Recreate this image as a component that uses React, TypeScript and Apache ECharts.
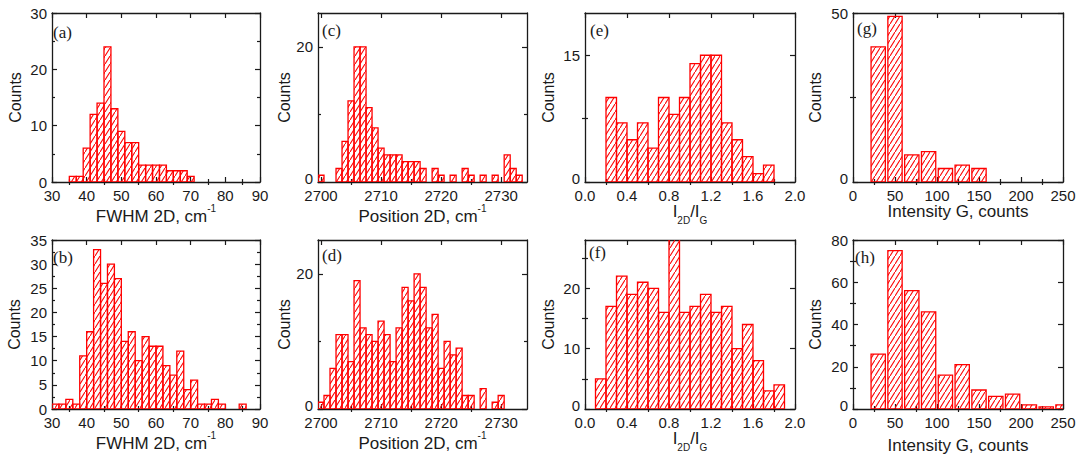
import React, { useEffect, useRef } from "react";
import * as echarts from "echarts";

// ---------------- data (bin centres and counts) ----------------
const fwhmBinsA = [36, 38, 40, 42, 44, 46, 48, 50, 52, 54, 56, 58, 60, 62, 64, 66, 68, 70];
const fwhmCountsA = [1, 1, 6, 12, 14, 24, 13, 9, 7, 7, 3, 3, 3, 3, 2, 2, 2, 1];

const fwhmBinsB = [31, 33, 35, 37, 39, 41, 43, 45, 47, 49, 51, 53, 55, 57, 59, 61, 63, 65, 67, 69, 71, 73, 75, 77, 79, 85];
const fwhmCountsB = [1, 1, 2, 1, 11, 16, 33, 26, 30, 27, 14, 16, 10, 15, 13, 13, 9, 7, 12, 4, 6, 1, 1, 2, 1, 1];

const posBinsC = [2700, 2703, 2704, 2705, 2706, 2707, 2708, 2709, 2710, 2711, 2712, 2713, 2714, 2715, 2716, 2717, 2719, 2720, 2722, 2724, 2725, 2727, 2729, 2731, 2732, 2733];
const posCountsC = [1, 2, 6, 12, 20, 20, 11, 8, 5, 4, 4, 4, 3, 3, 3, 2, 2, 1, 1, 2, 1, 1, 1, 4, 2, 1];

const posBinsD = [2700, 2701, 2702, 2703, 2704, 2705, 2706, 2707, 2708, 2709, 2710, 2711, 2712, 2713, 2714, 2715, 2716, 2717, 2718, 2719, 2720, 2721, 2722, 2723, 2724, 2725, 2727, 2729, 2730];
const posCountsD = [1, 2, 6, 11, 11, 7, 19, 12, 11, 10, 13, 11, 7, 12, 18, 16, 20, 18, 12, 14, 6, 10, 8, 9, 2, 2, 3, 1, 2];

const ratioBinsE = [0.25, 0.35, 0.45, 0.55, 0.65, 0.75, 0.85, 0.95, 1.05, 1.15, 1.25, 1.35, 1.45, 1.55, 1.65, 1.75];
const ratioCountsE = [10, 7, 5, 7, 4, 10, 8, 10, 14, 15, 15, 7, 5, 3, 1, 2];

const ratioBinsF = [0.15, 0.25, 0.35, 0.45, 0.55, 0.65, 0.75, 0.85, 0.95, 1.05, 1.15, 1.25, 1.35, 1.45, 1.55, 1.65, 1.75, 1.85];
const ratioCountsF = [5, 17, 22, 19, 21, 20, 16, 30, 16, 17, 19, 16, 17, 10, 14, 8, 3, 4];

const intBinsG = [30, 50, 70, 90, 110, 130, 150];
const intCountsG = [40, 49, 8, 9, 4, 5, 4];

const intBinsH = [30, 50, 70, 90, 110, 130, 150, 170, 190, 210, 230, 250];
const intCountsH = [26, 75, 56, 46, 16, 21, 9, 6, 7, 2, 1, 2];

// ---------------- tick values ----------------
const fwhmTicks = [30, 40, 50, 60, 70, 80, 90];
const fwhmMinor = [35, 45, 55, 65, 75, 85];
const posTicks = [2700, 2710, 2720, 2730];
const posMinor = [2705, 2715, 2725];
const ratioTicks = [0, 0.4, 0.8, 1.2, 1.6, 2.0];
const ratioMinor = [0.2, 0.6, 1.0, 1.4, 1.8];
const intTicks = [0, 50, 100, 150, 200, 250];
const intMinor = [25, 75, 125, 175, 225];

const countTicksA = [0, 10, 20, 30];
const countMinorA = [5, 15, 25];
const countTicksB = [0, 5, 10, 15, 20, 25, 30, 35];
const countMinorB = [2.5, 7.5, 12.5, 17.5, 22.5, 27.5, 32.5];
const countTicksCD = [0, 20];
const countMinorCD = [10];
const countTicksE = [0, 15];
const countMinorE = [7.5];
const countTicksF = [0, 10, 20];
const countMinorF = [5, 15, 25];
const countTicksG = [0, 50];
const countMinorG = [25];
const countTicksH = [0, 20, 40, 60, 80];
const countMinorH = [10, 30, 50, 70];

// ---------------- styling ----------------
const RED = "#ff0000";
const INK = "#1a1a1a";
const SANS = '"Liberation Sans", Arial, sans-serif';
const SERIF = '"Liberation Serif", "Times New Roman", serif';

const hatchSvg =
  "data:image/svg+xml," +
  encodeURIComponent(
    "<svg xmlns='http://www.w3.org/2000/svg' width='5' height='8'><path d='M-1 9.6 L6 -1.6' stroke='#ff0000' stroke-width='1.1' fill='none'/></svg>"
  );

const fmtInt = (v: number) => String(Math.round(v));
const fmtOne = (v: number) => v.toFixed(1);
// zero label nudged up a little so it does not sit on the x tick label below it
const fmtCountLift = (v: number) => (v === 0 ? "{z|0}" : String(Math.round(v)));

const supRich = {
  a: { fontSize: 17, fontFamily: SANS, color: INK, lineHeight: 22, verticalAlign: "bottom" },
  s: { fontSize: 10, fontFamily: SANS, color: INK, verticalAlign: "top" },
};
const subRich = {
  a: { fontSize: 17, fontFamily: SANS, color: INK, lineHeight: 22, verticalAlign: "top" },
  b: { fontSize: 10, fontFamily: SANS, color: INK, verticalAlign: "bottom" },
};
const plainRich = {
  a: { fontSize: 17, fontFamily: SANS, color: INK, lineHeight: 20 },
};
const zeroRich = {
  z: { fontSize: 15, fontFamily: SANS, color: INK, padding: [0, 0, 7, 0] },
};

const fwhmName = "{a|FWHM 2D, cm}{s|-1}";
const posName = "{a|Position 2D, cm}{s|-1}";
const ratioName = "{a|I}{b|2D}{a|/I}{b|G}";
const intName = "{a|Intensity G, counts}";

type Ax = {
  min: number; max: number; majors: number[]; labels: number[]; minors: number[];
  fmt: (v: number) => string; name: string; gap: number; rich?: any;
};

const panels = [
  { tag: "(a)", grid: [52, 13, 208, 169], bins: fwhmBinsA, counts: fwhmCountsA, bw: 2, frac: 1, lx: 53, ly: 32,
    x: { min: 30, max: 90, majors: fwhmTicks, labels: fwhmTicks, minors: fwhmMinor, fmt: fmtInt, name: fwhmName, gap: 18, rich: supRich },
    y: { min: 0, max: 30, majors: countTicksA, labels: countTicksA, minors: countMinorA, fmt: fmtInt, name: "Counts", gap: 29 } },
  { tag: "(b)", grid: [52, 240, 208, 169], bins: fwhmBinsB, counts: fwhmCountsB, bw: 2, frac: 1, lx: 53, ly: 257,
    x: { min: 30, max: 90, majors: fwhmTicks, labels: fwhmTicks, minors: fwhmMinor, fmt: fmtInt, name: fwhmName, gap: 21, rich: supRich },
    y: { min: 0, max: 35, majors: countTicksB, labels: countTicksB, minors: countMinorB, fmt: fmtInt, name: "Counts", gap: 30 } },
  { tag: "(c)", grid: [318, 13, 209, 169], bins: posBinsC, counts: posCountsC, bw: 1, frac: 1, lx: 322, ly: 30,
    x: { min: 2699.5, max: 2734.3, majors: posTicks, labels: posTicks, minors: posMinor, fmt: fmtInt, name: posName, gap: 18, rich: supRich },
    y: { min: 0, max: 25, majors: countTicksCD, labels: countTicksCD, minors: countMinorCD, fmt: fmtCountLift, name: "Counts", gap: 25 } },
  { tag: "(d)", grid: [318, 240, 209, 169], bins: posBinsD, counts: posCountsD, bw: 1, frac: 1, lx: 322, ly: 255,
    x: { min: 2699.5, max: 2734.3, majors: posTicks, labels: posTicks, minors: posMinor, fmt: fmtInt, name: posName, gap: 19, rich: supRich },
    y: { min: 0, max: 25, majors: countTicksCD, labels: countTicksCD, minors: countMinorCD, fmt: fmtCountLift, name: "Counts", gap: 25 } },
  { tag: "(e)", grid: [585, 13, 210, 169], bins: ratioBinsE, counts: ratioCountsE, bw: 0.1, frac: 1, lx: 590, ly: 30,
    x: { min: 0, max: 2, majors: ratioTicks, labels: ratioTicks, minors: ratioMinor, fmt: fmtOne, name: ratioName, gap: 13, rich: subRich },
    y: { min: 0, max: 20, majors: countTicksE, labels: countTicksE, minors: countMinorE, fmt: fmtCountLift, name: "Counts", gap: 29 } },
  { tag: "(f)", grid: [585, 240, 210, 169], bins: ratioBinsF, counts: ratioCountsF, bw: 0.1, frac: 1, lx: 589, ly: 252,
    x: { min: 0, max: 2, majors: ratioTicks, labels: ratioTicks, minors: ratioMinor, fmt: fmtOne, name: ratioName, gap: 21, rich: subRich },
    y: { min: 0, max: 28, majors: countTicksF, labels: countTicksF, minors: countMinorF, fmt: fmtCountLift, name: "Counts", gap: 29 } },
  { tag: "(g)", grid: [853, 13, 210, 169], bins: intBinsG, counts: intCountsG, bw: 20, frac: 0.85, lx: 857, ly: 28,
    x: { min: 0, max: 250, majors: intTicks, labels: intTicks, minors: intMinor, fmt: fmtInt, name: intName, gap: 19, rich: plainRich },
    y: { min: 0, max: 50, majors: countTicksG, labels: countTicksG, minors: countMinorG, fmt: fmtCountLift, name: "Counts", gap: 30 } },
  { tag: "(h)", grid: [853, 240, 210, 169], bins: intBinsH, counts: intCountsH, bw: 20, frac: 0.85, lx: 855, ly: 257,
    x: { min: 0, max: 250, majors: intTicks, labels: intTicks, minors: intMinor, fmt: fmtInt, name: intName, gap: 26, rich: plainRich },
    y: { min: 0, max: 80, majors: countTicksH, labels: countTicksH, minors: countMinorH, fmt: fmtCountLift, name: "Counts", gap: 30 } },
];

function tick(vals: number[], len: number) {
  return vals.length
    ? { show: true, inside: true, length: len, customValues: vals, lineStyle: { color: INK, width: 1.2 } }
    : { show: false };
}

function makeAxes(dim: "x" | "y", gi: number, ax: Ax) {
  const base: any = {
    type: "value", gridIndex: gi, min: ax.min, max: ax.max,
    splitLine: { show: false }, axisPointer: { show: false },
  };
  const line = { show: true, onZero: false, lineStyle: { color: INK, width: 1.3 } };
  const p1 = dim === "x" ? "bottom" : "left";
  const p2 = dim === "x" ? "top" : "right";
  const nameStyle =
    dim === "x"
      ? { fontFamily: SANS, color: INK, rich: ax.rich }
      : { fontFamily: SANS, color: INK, fontSize: 16, lineHeight: 16 };
  const label =
    dim === "x"
      ? { show: true, customValues: ax.labels, formatter: ax.fmt, margin: 6, lineHeight: 14, color: INK, fontSize: 15, fontFamily: SANS }
      : { show: true, customValues: ax.labels, formatter: ax.fmt, margin: 5, lineHeight: 12, color: INK, fontSize: 15, fontFamily: SANS, rich: zeroRich };
  return [
    {
      ...base, position: p1, axisLine: line, axisTick: tick(ax.majors, 5),
      axisLabel: label,
      name: ax.name, nameLocation: "middle", nameGap: ax.gap, nameTextStyle: nameStyle,
    },
    { ...base, position: p2, axisLine: line, axisTick: tick(ax.majors, 5), axisLabel: { show: false } },
    { ...base, position: p1, axisLine: { show: false }, axisTick: tick(ax.minors, 3), axisLabel: { show: false } },
    { ...base, position: p2, axisLine: { show: false }, axisTick: tick(ax.minors, 3), axisLabel: { show: false } },
  ];
}

export default function App() {
  const ref = useRef<HTMLDivElement>(null);

  useEffect(() => {
    document.body.style.margin = "0";
    const chart = echarts.init(ref.current!, null, { renderer: "svg" });
    const hatch = { image: hatchSvg, repeat: "repeat", imageWidth: 5, imageHeight: 8 };

    const grid: any[] = [];
    const xAxis: any[] = [];
    const yAxis: any[] = [];
    const series: any[] = [];
    const graphic: any[] = [];

    panels.forEach((p, gi) => {
      grid.push({ left: p.grid[0], top: p.grid[1], width: p.grid[2], height: p.grid[3], containLabel: false, outerBoundsMode: "none" });
      xAxis.push(...makeAxes("x", gi, p.x as Ax));
      yAxis.push(...makeAxes("y", gi, p.y as Ax));
      const bw = p.bw;
      const frac = p.frac;
      series.push({
        type: "custom",
        xAxisIndex: gi * 4,
        yAxisIndex: gi * 4,
        clip: true,
        silent: true,
        data: p.bins.map((b, i) => [b, p.counts[i]]),
        renderItem: (_params: any, api: any) => {
          const x = api.value(0);
          const y = api.value(1);
          const half = (bw * frac) / 2;
          const p0 = api.coord([x - half, y]);
          const p1 = api.coord([x + half, 0]);
          return {
            type: "rect",
            shape: { x: p0[0], y: p0[1], width: p1[0] - p0[0], height: p1[1] - p0[1] },
            style: { fill: hatch, stroke: RED, lineWidth: 1.3 },
          };
        },
      });
      graphic.push({
        type: "text",
        x: p.lx,
        y: p.ly,
        silent: true,
        style: { text: p.tag, font: `17px ${SERIF}`, fill: INK, verticalAlign: "middle", align: "left" },
      });
    });

    chart.setOption({
      animation: false,
      backgroundColor: "#ffffff",
      grid,
      xAxis,
      yAxis,
      series,
      graphic,
    });

    return () => chart.dispose();
  }, []);

  return <div ref={ref} style={{ width: 1084, height: 461 }} />;
}
